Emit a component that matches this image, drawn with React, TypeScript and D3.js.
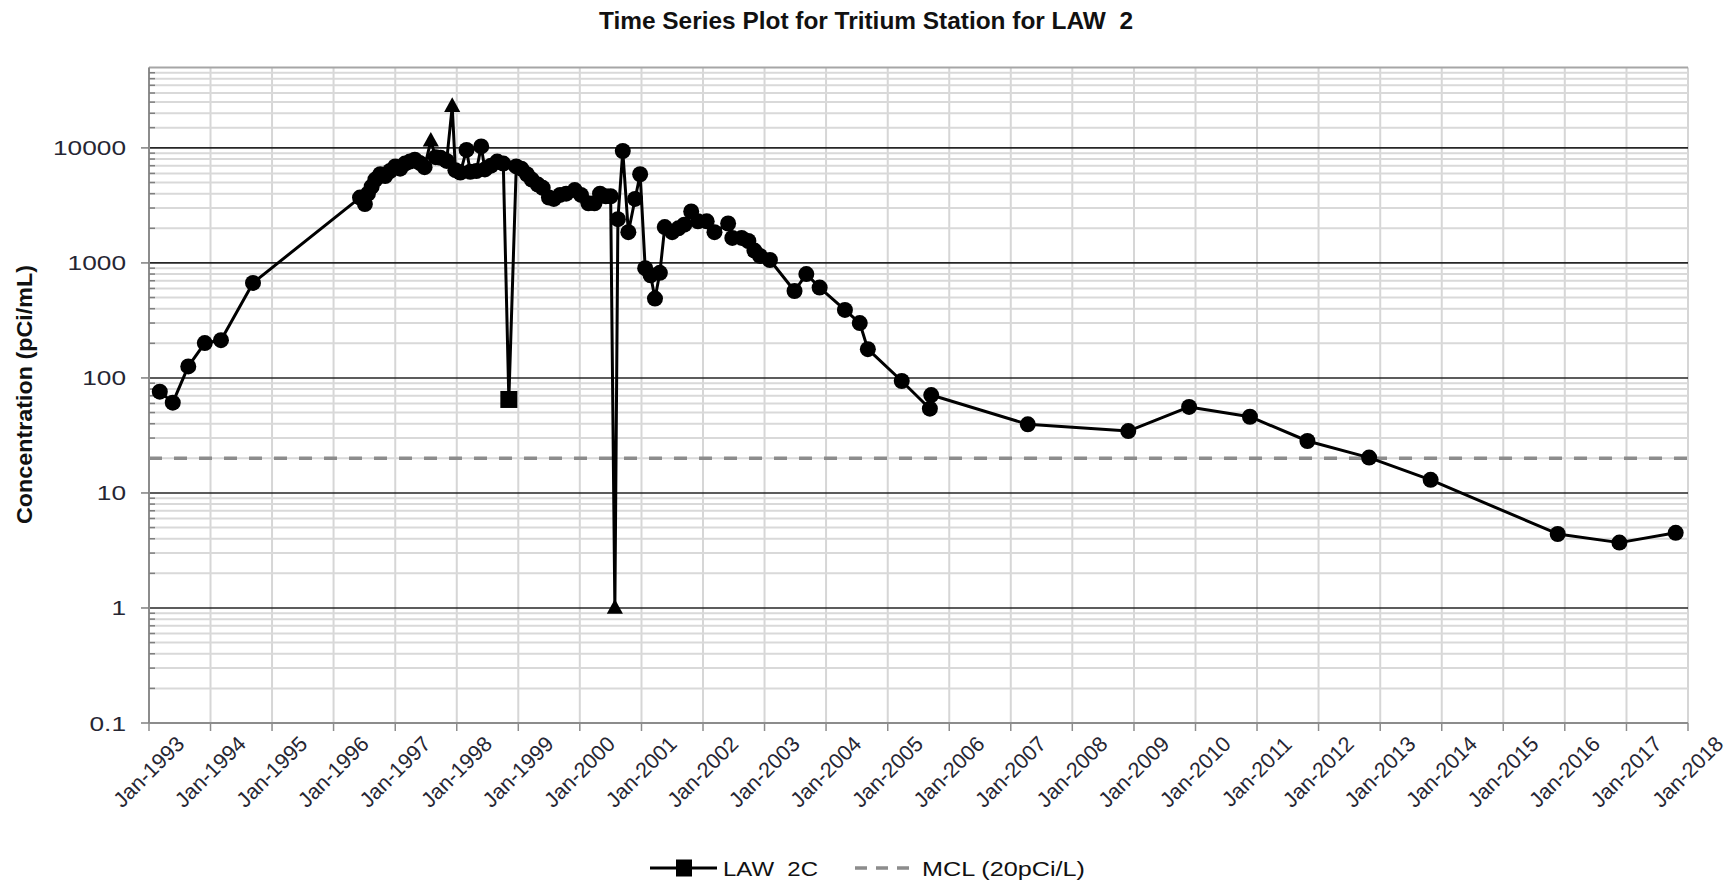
import React from 'react';
import * as d3 from 'd3';

// ---------- data ----------
const sampleDates: string[] = [
  '1993-03-06', '1993-05-22', '1993-08-22', '1993-11-28', '1994-03-04', '1994-09-10',
  '1996-06-06', '1996-07-05', '1996-07-23', '1996-08-14', '1996-09-05', '1996-10-04',
  '1996-11-02', '1996-12-01', '1997-01-01', '1997-01-30', '1997-02-28', '1997-03-29',
  '1997-04-27', '1997-05-26', '1997-06-24', '1997-07-31', '1997-08-29', '1997-09-27',
  '1997-11-02', '1997-12-05', '1997-12-24', '1998-01-22', '1998-02-28', '1998-03-22',
  '1998-04-27', '1998-05-26', '1998-06-17', '1998-07-23', '1998-08-29', '1998-10-04',
  '1998-11-06', '1998-12-20', '1999-01-19', '1999-02-21', '1999-03-22', '1999-04-27',
  '1999-05-26', '1999-07-02', '1999-07-31', '1999-09-06', '1999-10-12', '1999-12-02',
  '2000-01-08', '2000-02-21', '2000-03-28', '2000-04-30', '2000-06-03', '2000-07-02',
  '2000-07-27', '2000-08-14', '2000-09-12', '2000-10-15', '2000-11-24', '2000-12-24',
  '2001-01-23', '2001-02-24', '2001-03-22', '2001-04-20', '2001-05-19', '2001-07-02',
  '2001-08-08', '2001-09-12', '2001-10-23', '2001-12-02', '2002-01-23', '2002-03-10',
  '2002-05-30', '2002-06-24', '2002-08-18', '2002-09-27', '2002-11-02', '2002-12-05',
  '2003-02-02', '2003-06-28', '2003-09-06', '2003-11-24', '2004-04-22', '2004-07-19',
  '2004-09-05', '2005-03-25', '2005-09-08', '2005-09-16', '2007-04-12', '2008-11-28',
  '2009-11-24', '2010-11-20', '2011-10-27', '2012-10-27', '2013-10-27', '2015-11-20',
  '2016-11-20', '2017-10-20',
];

const concentrations: number[] = [
  76, 61, 126, 201, 213, 670,
  3700, 3250, 4000, 4600, 5300, 5900,
  5700, 6300, 6900, 6600, 7300, 7600,
  7900, 7400, 6800, 11500, 8300, 8200,
  7700, 23000, 6400, 6100, 9600, 6200,
  6300, 10300, 6500, 7000, 7600, 7300,
  65, 6900, 6600, 5900, 5300, 4800,
  4500, 3700, 3600, 3900, 4000, 4300,
  3900, 3300, 3300, 4000, 3800, 3800,
  1, 2400, 9400, 1850, 3600, 5900,
  900, 780, 490, 820, 2050, 1850,
  2000, 2150, 2800, 2300, 2300, 1850,
  2200, 1650, 1650, 1550, 1280, 1150,
  1060, 570, 800, 610, 390, 300,
  178, 94, 54, 71, 39.5, 34.5,
  56, 46, 28.3, 20.3, 13, 4.4,
  3.7, 4.5,
];

// c = detected (circle), t = flagged (triangle), s = non-detect (square)
const markerTypes: string[] = [
  'c', 'c', 'c', 'c', 'c', 'c',
  'c', 'c', 'c', 'c', 'c', 'c',
  'c', 'c', 'c', 'c', 'c', 'c',
  'c', 'c', 'c', 't', 'c', 'c',
  'c', 't', 'c', 'c', 'c', 'c',
  'c', 'c', 'c', 'c', 'c', 'c',
  's', 'c', 'c', 'c', 'c', 'c',
  'c', 'c', 'c', 'c', 'c', 'c',
  'c', 'c', 'c', 'c', 'c', 'c',
  't', 'c', 'c', 'c', 'c', 'c',
  'c', 'c', 'c', 'c', 'c', 'c',
  'c', 'c', 'c', 'c', 'c', 'c',
  'c', 'c', 'c', 'c', 'c', 'c',
  'c', 'c', 'c', 'c', 'c', 'c',
  'c', 'c', 'c', 'c', 'c', 'c',
  'c', 'c', 'c', 'c', 'c', 'c',
  'c', 'c',
];

const mclValue = 20;
const yMajorTicks: number[] = [0.1, 1, 10, 100, 1000, 10000];
const yTickLabels: string[] = ['0.1', '1', '10', '100', '1000', '10000'];
const yTopMinor: number[] = [15000, 20000, 25000, 30000, 35000, 40000, 45000];
const yDomain: [number, number] = [0.1, 50000];
const xStartYear = 1993;
const xEndYear = 2018;

const titleText = 'Time Series Plot for Tritium Station for LAW  2';
const yAxisTitle = 'Concentration (pCi/mL)';
const seriesName = 'LAW  2C';
const mclName = 'MCL (20pCi/L)';

// ---------- layout ----------
const W = 1730;
const H = 882;
const plotLeft = 149;
const plotRight = 1688;
const plotTop = 67.5;
const plotBottom = 723;
const FONT = "'Liberation Sans', Arial, Helvetica, sans-serif";

export default function App() {
  const parse = d3.timeParse('%Y-%m-%d');
  const dates = sampleDates.map((d) => parse(d) as Date);

  const x = d3
    .scaleTime()
    .domain([new Date(xStartYear, 0, 1), new Date(xEndYear, 0, 1)])
    .range([plotLeft, plotRight]);
  const y = d3.scaleLog().domain(yDomain).range([plotBottom, plotTop]);

  const yearTicks = d3.range(xStartYear, xEndYear + 1).map((yr) => new Date(yr, 0, 1));
  const minorVals: number[] = [];
  [0.1, 1, 10, 100, 1000].forEach((dec) => {
    for (let k = 2; k <= 9; k++) minorVals.push(dec * k);
  });
  yTopMinor.forEach((v) => minorVals.push(v));

  const pts = dates.map((d, i) => ({ x: x(d), y: y(concentrations[i]), m: markerTypes[i] }));
  const line = d3
    .line<{ x: number; y: number }>()
    .x((p) => p.x)
    .y((p) => p.y);

  const tri = (cx: number, cy: number, s: number) =>
    `M${cx},${cy - s * 0.95} L${cx + s * 0.85},${cy + s * 0.6} L${cx - s * 0.85},${cy + s * 0.6} Z`;

  const legendY = 868;

  return (
    <svg
      width={W}
      height={H}
      style={{ position: 'absolute', left: 0, top: 0, background: '#fff' }}
      fontFamily={FONT}
    >
      <rect x={0} y={0} width={W} height={H} fill="#fff" />
      {/* title */}
      <text
        x={866}
        y={29}
        textAnchor="middle"
        fontWeight="bold"
        fontSize={24}
        fill="#111"
        textLength={534}
        lengthAdjust="spacingAndGlyphs"
        style={{ whiteSpace: 'pre' }}
      >
        {titleText}
      </text>

      {/* vertical grid */}
      {yearTicks.map((t, i) => (
        <line
          key={'vg' + i}
          x1={x(t)}
          x2={x(t)}
          y1={plotTop}
          y2={plotBottom}
          stroke="#d6d6d6"
          strokeWidth={2}
        />
      ))}
      {/* minor horizontal grid */}
      {minorVals.map((v, i) => (
        <line
          key={'mg' + i}
          x1={plotLeft}
          x2={plotRight}
          y1={y(v)}
          y2={y(v)}
          stroke="#d9d9d9"
          strokeWidth={2}
        />
      ))}
      {/* top border */}
      <line x1={plotLeft} x2={plotRight} y1={plotTop} y2={plotTop} stroke="#a6a6a6" strokeWidth={2} />
      {/* major horizontal grid */}
      {yMajorTicks.slice(1).map((v, i) => (
        <line
          key={'Mg' + i}
          x1={plotLeft}
          x2={plotRight}
          y1={y(v)}
          y2={y(v)}
          stroke="#262626"
          strokeWidth={1.6}
        />
      ))}

      {/* y axis */}
      <line x1={plotLeft} x2={plotLeft} y1={plotTop} y2={plotBottom} stroke="#8c8c8c" strokeWidth={2} />
      {minorVals.map((v, i) => (
        <line key={'mt' + i} x1={plotLeft} x2={plotLeft + 6} y1={y(v)} y2={y(v)} stroke="#7f7f7f" strokeWidth={1.5} />
      ))}
      {yMajorTicks.map((v, i) => (
        <g key={'yt' + i}>
          <line x1={plotLeft - 8} x2={plotLeft} y1={y(v)} y2={y(v)} stroke="#7f7f7f" strokeWidth={1.5} />
          <text
            transform={`translate(${plotLeft - 23},${y(v)}) scale(1.25,1)`}
            textAnchor="end"
            dominantBaseline="central"
            fontSize={21}
            fill="#262633"
          >
            {yTickLabels[i]}
          </text>
        </g>
      ))}
      <text
        transform={`translate(24,394.5) rotate(-90)`}
        textAnchor="middle"
        dominantBaseline="central"
        fontWeight="bold"
        fontSize={22}
        fill="#111"
        textLength={259}
        lengthAdjust="spacingAndGlyphs"
      >
        {yAxisTitle}
      </text>

      {/* x axis */}
      <line x1={plotLeft} x2={plotRight} y1={plotBottom} y2={plotBottom} stroke="#8c8c8c" strokeWidth={2} />
      {yearTicks.map((t, i) => (
        <g key={'xt' + i}>
          <line x1={x(t)} x2={x(t)} y1={plotBottom} y2={plotBottom + 8} stroke="#8c8c8c" strokeWidth={1.5} />
          <text
            transform={`translate(${x(t)},${plotBottom + 49}) rotate(-45)`}
            textAnchor="middle"
            dominantBaseline="central"
            fontSize={21.5}
            fill="#262633"
          >
            {d3.timeFormat('%b-%Y')(t)}
          </text>
        </g>
      ))}

      {/* MCL line */}
      <line
        x1={plotLeft}
        x2={plotRight}
        y1={y(mclValue)}
        y2={y(mclValue)}
        stroke="#8c8c8c"
        strokeWidth={3.5}
        strokeDasharray="13 12"
      />

      {/* series */}
      <path d={line(pts) || ''} fill="none" stroke="#000" strokeWidth={3} strokeLinejoin="round" />
      {pts.map((p, i) =>
        p.m === 'c' ? (
          <circle key={'p' + i} cx={p.x} cy={p.y} r={8} fill="#000" />
        ) : p.m === 't' ? (
          <path key={'p' + i} d={tri(p.x, p.y, 9.5)} fill="#000" />
        ) : (
          <rect key={'p' + i} x={p.x - 8.5} y={p.y - 8.5} width={17} height={17} fill="#000" />
        )
      )}

      {/* legend */}
      <line x1={650} x2={717} y1={legendY} y2={legendY} stroke="#000" strokeWidth={3} />
      <rect x={676} y={legendY - 8.5} width={16} height={17} fill="#000" />
      <text
        x={723}
        y={legendY}
        dominantBaseline="central"
        fontSize={21}
        fill="#111"
        textLength={95}
        lengthAdjust="spacingAndGlyphs"
        style={{ whiteSpace: 'pre' }}
      >
        {seriesName}
      </text>
      <line
        x1={855}
        x2={918}
        y1={legendY}
        y2={legendY}
        stroke="#8c8c8c"
        strokeWidth={3.5}
        strokeDasharray="12 9"
      />
      <text
        x={922}
        y={legendY}
        dominantBaseline="central"
        fontSize={21}
        fill="#111"
        textLength={163}
        lengthAdjust="spacingAndGlyphs"
      >
        {mclName}
      </text>
    </svg>
  );
}
